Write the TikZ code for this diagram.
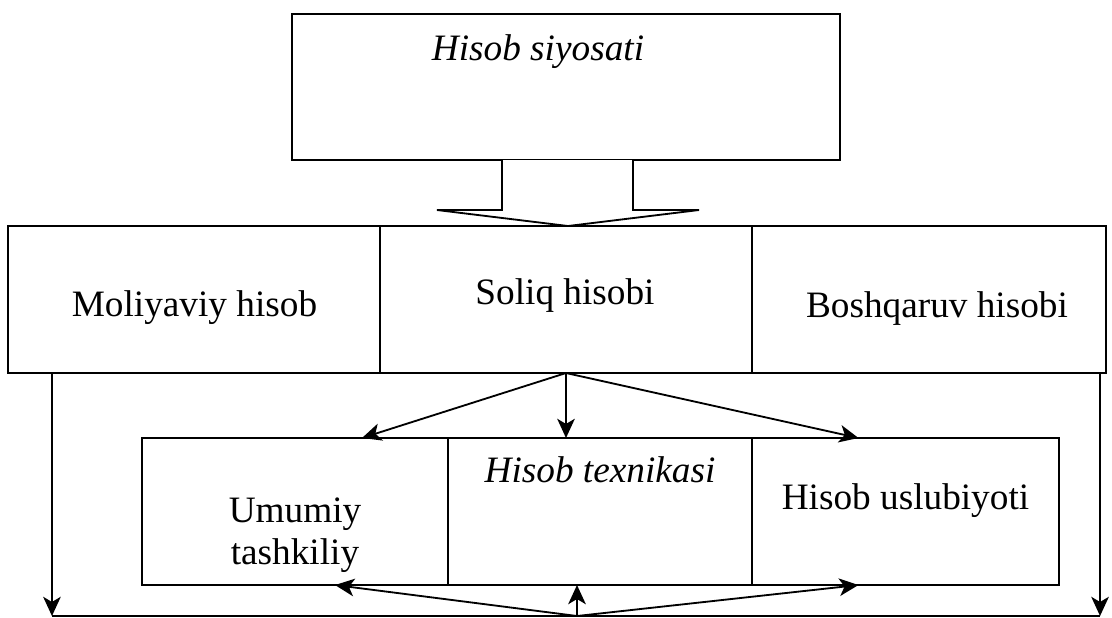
\documentclass[tikz,border=0pt]{standalone}
\usepackage{fontspec}
\setmainfont{Liberation Serif}
\usetikzlibrary{arrows.meta,positioning,calc}

\begin{document}
\begin{tikzpicture}[
    x=0.025cm, y=-0.025cm,
    line width=1.3pt,
    box/.style={rectangle, draw, inner sep=0pt, outer sep=0pt},
    txt/.style={inner sep=0pt, anchor=base, align=center, font=\fontsize{26.5}{30}\selectfont},
    arrow/.style={-{Stealth[length=0.48cm,width=0.44cm,inset=0.13cm]}}
]
    \useasboundingbox (0,0) rectangle (1112,618);

    % Hisob siyosati
    \node[box, minimum width=13.7cm, minimum height=3.65cm] (policy) at (566,87) {};
    \node[txt, font=\fontsize{26.5}{30}\selectfont\itshape] (policytxt) at (538,60) {Hisob siyosati};

    % block arrow
    \draw[fill=white] ($(policy.south)+(-64,0)$) -- ++(0,50) -- ++(-65,0)
        -- ($(policy.south)+(2,66)$) -- ++(131,-16) -- ++(-66,0) -- ++(0,-50);

    % ikkinchi qator
    \node[box, minimum width=9.3cm, minimum height=3.675cm] (moliya) at (194,299.5) {};
    \node[box, minimum width=9.3cm, minimum height=3.675cm] (soliq) at (566,299.5) {};
    \node[box, minimum width=8.85cm, minimum height=3.675cm] (boshqaruv) at (929,299.5) {};
    \node[txt] (moliyatxt) at (194.5,316) {Moliyaviy hisob};
    \node[txt] (soliqtxt) at (565,304) {Soliq hisobi};
    \node[txt] (boshqaruvtxt) at (937,317) {Boshqaruv hisobi};

    % uchinchi qator
    \node[box, minimum width=7.65cm, minimum height=3.675cm] (umumiy) at (295,511.5) {};
    \node[box, minimum width=7.6cm, minimum height=3.675cm] (texnika) at (600,511.5) {};
    \node[box, minimum width=7.675cm, minimum height=3.675cm] (uslub) at (905.5,511.5) {};
    \node[txt, anchor=center] (umumiytxt) at (295,535) {Umumiy\\tashkiliy};
    \node[txt, font=\fontsize{26.5}{30}\selectfont\itshape] (texnikatxt) at (600,482) {Hisob texnikasi};
    \node[txt] (uslubtxt) at (905.5,509) {Hisob uslubiyoti};

    % strelkalar
    \draw[arrow] (soliq.south) -- ([xshift=1.675cm]umumiy.north);
    \draw[arrow] (soliq.south) -- (soliq.south |- texnika.north);
    \draw[arrow] (soliq.south) -- ([xshift=-1.175cm]uslub.north);

    \coordinate (hub) at (577,616);
    \coordinate (leftend) at ([xshift=1.1cm]moliya.south west |- hub);
    \coordinate (rightend) at ([xshift=-0.15cm]boshqaruv.south east |- hub);
    \draw[arrow] ([xshift=1.1cm]moliya.south west) -- (leftend);
    \draw[arrow] ([xshift=-0.15cm]boshqaruv.south east) -- (rightend);
    \draw (leftend) -- (rightend);

    \draw[arrow] (hub) -- (hub |- texnika.south);
    \draw[arrow] (hub) -- ([xshift=1cm]umumiy.south);
    \draw[arrow] (hub) -- ([xshift=-1.175cm]uslub.south);
\end{tikzpicture}
\end{document}
